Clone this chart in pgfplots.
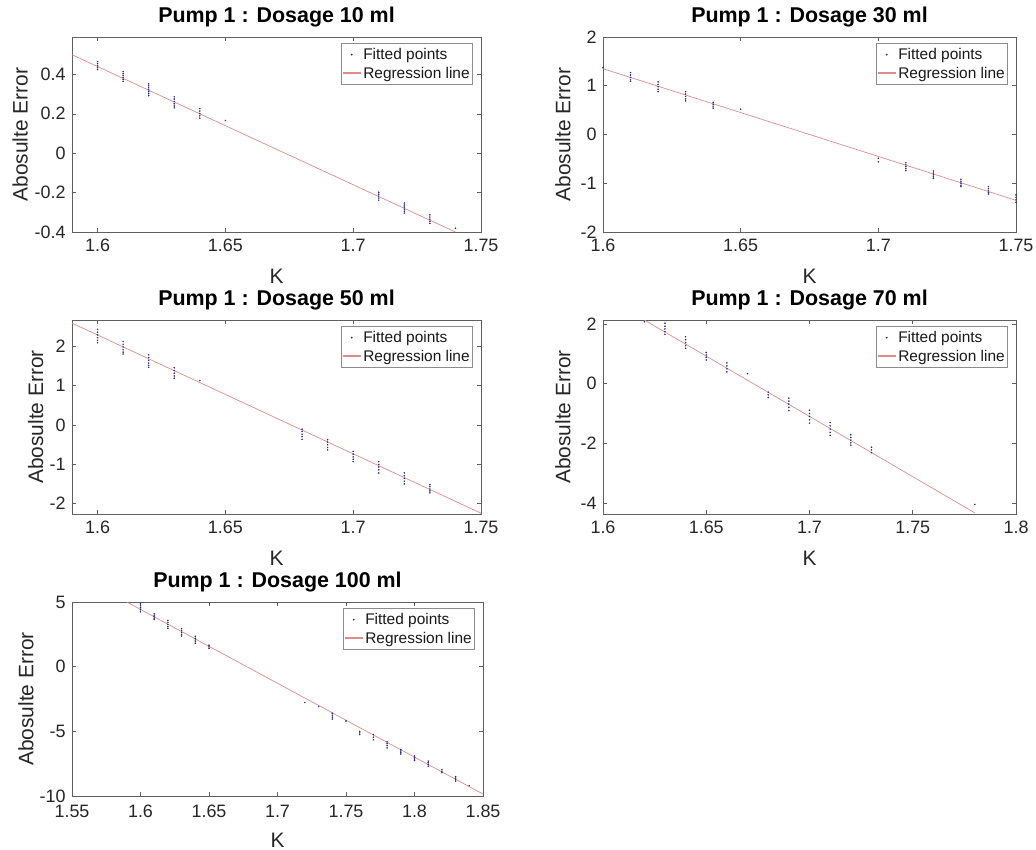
\documentclass[border=0pt]{standalone}
\usepackage{pgfplots}
\pgfplotsset{compat=1.18}
\usepackage{fontspec}
\setmainfont{Liberation Sans}

\definecolor{ptblue}{RGB}{40,40,140}
\definecolor{regred}{RGB}{220,140,140}
\definecolor{axgray}{RGB}{95,95,95}

\pgfplotsset{
  pumpaxis/.style={
    scale only axis,
    anchor=south west,
    axis line style={axgray, line width=0.6bp},
    tick style={axgray, line width=0.6bp},
    tick align=inside,
    major tick length=4bp,
    scaled ticks=false,
    /pgf/number format/assume math mode=true,
    /pgf/number format/fixed,
    /pgf/number format/precision=2,
    tick label style={font=\fontsize{18}{18}\selectfont, text=black!85},
    yticklabel style={xshift=-3bp},
    xticklabel style={yshift=-3.5bp},
    label style={font=\fontsize{21}{21}\selectfont, text=black!85},
    xlabel={K},
    ylabel={Abosulte Error},
    xlabel style={at={(axis description cs:0.5,0)}, anchor=north, inner sep=0pt, yshift=-37bp},
    title style={font=\bfseries\fontsize{21.5}{22}\selectfont, at={(axis description cs:0.5,1)}, anchor=base, inner sep=0pt, yshift=9bp},
    legend style={at={(axis description cs:1,1)}, anchor=north east, xshift=-8bp, yshift=-6bp,
      font=\fontsize{15.5}{16}\selectfont, draw=black!45, line width=0.6bp, fill=white,
      inner xsep=1bp, inner ysep=3bp, row sep=2bp, cells={anchor=west, text=black!90}},
  },
  ylabpos/.style={ylabel style={at={(axis description cs:#1,0.5)}, anchor=center, inner sep=0pt}},
  pts/.style={only marks, mark=*, mark size=0.55bp, color=ptblue,
    legend image code/.code={\fill[ptblue] (9bp,0bp) circle (0.6bp);}},
  reg/.style={no marks, color=regred, line width=0.7bp,
    legend image code/.code={\draw[regred, line width=1.2bp] (0bp,0.3bp) -- (18bp,0.3bp);}},
}

\begin{document}
\begin{tikzpicture}
\useasboundingbox (0,0) rectangle (1036bp,-850bp);

% Dosage 10 ml
\begin{axis}[pumpaxis, at={(72bp,-232bp)}, width=409bp, height=195bp,
  ylabpos=-0.127,
  title={Pump 1 : Dosage 10 ml},
  xmin=1.59, xmax=1.75, ymin=-0.4, ymax=0.59,
  xtick={1.6,1.65,1.7,1.75}, ytick={-0.4,-0.2,0,0.2,0.4}]
\addplot[pts] coordinates {
(1.60,0.465)(1.60,0.455)(1.60,0.445)(1.60,0.435)(1.60,0.425)
(1.61,0.415)(1.61,0.405)(1.61,0.395)(1.61,0.385)(1.61,0.375)(1.61,0.365)
(1.62,0.352)(1.62,0.342)(1.62,0.332)(1.62,0.322)(1.62,0.312)(1.62,0.302)(1.62,0.292)
(1.63,0.286)(1.63,0.275)(1.63,0.263)(1.63,0.251)(1.63,0.240)(1.63,0.230)
(1.64,0.226)(1.64,0.214)(1.64,0.202)(1.64,0.190)(1.64,0.178)
(1.65,0.166)
(1.71,-0.198)(1.71,-0.208)(1.71,-0.218)(1.71,-0.228)(1.71,-0.238)
(1.72,-0.253)(1.72,-0.263)(1.72,-0.273)(1.72,-0.284)(1.72,-0.294)(1.72,-0.304)
(1.73,-0.313)(1.73,-0.324)(1.73,-0.335)(1.73,-0.346)(1.73,-0.356)
(1.74,-0.381)
};
\addlegendentry{Fitted points}
\addplot[reg] coordinates {(1.59,0.50)(1.74,-0.40)};
\addlegendentry{Regression line}
\end{axis}

% Dosage 30 ml
\begin{axis}[pumpaxis, at={(603bp,-232bp)}, width=413bp, height=195bp,
  ylabpos=-0.097,
  title={Pump 1 : Dosage 30 ml},
  xmin=1.6, xmax=1.75, ymin=-2, ymax=2,
  xtick={1.6,1.65,1.7,1.75}, ytick={-2,-1,0,1,2}]
\addplot[pts] coordinates {
(1.60,1.37)
(1.61,1.27)(1.61,1.22)(1.61,1.17)(1.61,1.12)(1.61,1.09)
(1.62,1.08)(1.62,1.03)(1.62,0.98)(1.62,0.93)(1.62,0.88)
(1.63,0.88)(1.63,0.83)(1.63,0.78)(1.63,0.73)(1.63,0.69)
(1.64,0.66)(1.64,0.62)(1.64,0.58)(1.64,0.54)
(1.65,0.52)
(1.70,-0.49)(1.70,-0.56)
(1.71,-0.58)(1.71,-0.62)(1.71,-0.66)(1.71,-0.70)(1.71,-0.74)
(1.72,-0.75)(1.72,-0.79)(1.72,-0.83)(1.72,-0.87)(1.72,-0.90)
(1.73,-0.92)(1.73,-0.96)(1.73,-1.00)(1.73,-1.04)(1.73,-1.07)
(1.74,-1.07)(1.74,-1.11)(1.74,-1.15)(1.74,-1.19)(1.74,-1.22)
(1.75,-1.24)(1.75,-1.29)(1.75,-1.34)(1.75,-1.39)
};
\addlegendentry{Fitted points}
\addplot[reg] coordinates {(1.60,1.35)(1.75,-1.35)};
\addlegendentry{Regression line}
\end{axis}

% Dosage 50 ml
\begin{axis}[pumpaxis, at={(72bp,-514bp)}, width=409bp, height=194bp,
  ylabpos=-0.089,
  title={Pump 1 : Dosage 50 ml},
  xmin=1.59, xmax=1.75, ymin=-2.28, ymax=2.68,
  xtick={1.6,1.65,1.7,1.75}, ytick={-2,-1,0,1,2}]
\addplot[pts] coordinates {
(1.60,2.44)(1.60,2.37)(1.60,2.30)(1.60,2.23)(1.60,2.16)(1.60,2.10)
(1.61,2.13)(1.61,2.06)(1.61,1.99)(1.61,1.92)(1.61,1.86)(1.61,1.81)
(1.62,1.79)(1.62,1.72)(1.62,1.65)(1.62,1.58)(1.62,1.52)(1.62,1.47)
(1.63,1.46)(1.63,1.39)(1.63,1.32)(1.63,1.25)(1.63,1.19)
(1.64,1.13)
(1.68,-0.11)(1.68,-0.17)(1.68,-0.24)(1.68,-0.30)(1.68,-0.37)
(1.69,-0.38)(1.69,-0.44)(1.69,-0.51)(1.69,-0.58)(1.69,-0.64)
(1.70,-0.68)(1.70,-0.75)(1.70,-0.82)(1.70,-0.88)(1.70,-0.94)
(1.71,-0.94)(1.71,-1.01)(1.71,-1.08)(1.71,-1.15)(1.71,-1.23)
(1.72,-1.23)(1.72,-1.30)(1.72,-1.37)(1.72,-1.44)(1.72,-1.51)
(1.73,-1.53)(1.73,-1.58)(1.73,-1.64)(1.73,-1.69)(1.73,-1.74)
};
\addlegendentry{Fitted points}
\addplot[reg] coordinates {(1.59,2.60)(1.75,-2.26)};
\addlegendentry{Regression line}
\end{axis}

% Dosage 70 ml
\begin{axis}[pumpaxis, at={(603bp,-514bp)}, width=413bp, height=194bp,
  ylabpos=-0.097,
  title={Pump 1 : Dosage 70 ml},
  xmin=1.6, xmax=1.8, ymin=-4.37, ymax=2.14,
  xtick={1.6,1.65,1.7,1.75,1.8}, ytick={-4,-2,0,2}]
\addplot[pts] coordinates {
(1.62,2.08)
(1.63,2.03)(1.63,1.93)(1.63,1.84)(1.63,1.75)(1.63,1.66)
(1.64,1.58)(1.64,1.48)(1.64,1.38)(1.64,1.28)(1.64,1.19)
(1.65,1.05)(1.65,0.97)(1.65,0.89)(1.65,0.80)
(1.66,0.70)(1.66,0.60)(1.66,0.50)(1.66,0.40)
(1.67,0.34)
(1.68,-0.28)(1.68,-0.37)(1.68,-0.46)
(1.69,-0.48)(1.69,-0.58)(1.69,-0.68)(1.69,-0.79)(1.69,-0.90)
(1.70,-0.89)(1.70,-1.00)(1.70,-1.10)(1.70,-1.21)(1.70,-1.32)
(1.71,-1.30)(1.71,-1.41)(1.71,-1.52)(1.71,-1.63)(1.71,-1.73)
(1.72,-1.71)(1.72,-1.80)(1.72,-1.89)(1.72,-1.98)(1.72,-2.06)
(1.73,-2.13)(1.73,-2.22)(1.73,-2.31)
(1.78,-4.05)
};
\addlegendentry{Fitted points}
\addplot[reg] coordinates {(1.62,2.14)(1.78,-4.33)};
\addlegendentry{Regression line}
\end{axis}

% Dosage 100 ml
\begin{axis}[pumpaxis, at={(72bp,-796bp)}, width=411bp, height=194bp,
  ylabpos=-0.112,
  title={Pump 1 : Dosage 100 ml},
  xticklabel style={yshift=-2bp},
  xmin=1.55, xmax=1.85, ymin=-10, ymax=5,
  xtick={1.55,1.6,1.65,1.7,1.75,1.8,1.85}, ytick={-10,-5,0,5}]
\addplot[pts] coordinates {
(1.60,4.87)(1.60,4.70)(1.60,4.55)(1.60,4.40)(1.60,4.24)
(1.61,4.10)(1.61,3.98)(1.61,3.86)(1.61,3.75)(1.61,3.64)
(1.62,3.58)(1.62,3.42)(1.62,3.26)(1.62,3.10)(1.62,2.96)
(1.63,2.94)(1.63,2.80)(1.63,2.65)(1.63,2.50)(1.63,2.37)
(1.64,2.35)(1.64,2.20)(1.64,2.06)(1.64,1.92)(1.64,1.80)
(1.65,1.66)(1.65,1.53)(1.65,1.42)
(1.72,-2.77)
(1.73,-3.08)
(1.74,-3.60)(1.74,-3.75)(1.74,-3.90)(1.74,-4.05)
(1.75,-4.20)
(1.76,-5.00)(1.76,-5.12)(1.76,-5.25)
(1.77,-5.25)(1.77,-5.45)(1.77,-5.65)
(1.78,-5.80)(1.78,-5.95)(1.78,-6.10)(1.78,-6.28)
(1.79,-6.40)(1.79,-6.52)(1.79,-6.64)(1.79,-6.75)
(1.80,-6.90)(1.80,-7.02)(1.80,-7.14)(1.80,-7.25)
(1.81,-7.30)(1.81,-7.43)(1.81,-7.56)(1.81,-7.70)
(1.82,-7.95)(1.82,-8.08)(1.82,-8.20)
(1.83,-8.50)(1.83,-8.62)(1.83,-8.75)(1.83,-8.85)
(1.84,-9.20)
};
\addlegendentry{Fitted points}
\addplot[reg] coordinates {(1.59,5.0)(1.85,-9.85)};
\addlegendentry{Regression line}
\end{axis}
\end{tikzpicture}
\end{document}
